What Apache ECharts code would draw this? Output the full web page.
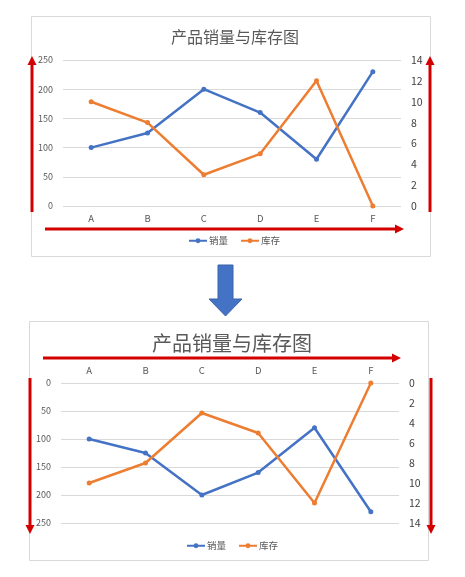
<!DOCTYPE html>
<html>
<head>
<meta charset="utf-8">
<script src="https://cdn.jsdelivr.net/npm/echarts@6/dist/echarts.min.js"></script>
<style>
  html, body { margin: 0; padding: 0; background: #fff; }
  #chart { width: 465px; height: 577px; }
</style>
</head>
<body>
<div id="chart"></div>
<script>
// data
var categories = ["A", "B", "C", "D", "E", "F"];
var sales = [100, 125, 200, 160, 80, 230];
var stock = [10, 8, 3, 5, 12, 0];
var salesName = "销量";
var stockName = "库存";
var titleText = "产品销量与库存图";

var blue = "#4472C4";
var orange = "#ED7D31";
var red = "#D40000";
var grey = "#595959";
var font = "'Noto Sans CJK SC', 'Noto Sans', sans-serif";

var myChart = echarts.init(document.getElementById("chart"));

function arrow(x1, y1, x2, y2) {
  // shaft + triangular head, head at (x2, y2)
  var dx = x2 - x1, dy = y2 - y1;
  var len = Math.sqrt(dx * dx + dy * dy);
  var ux = dx / len, uy = dy / len;
  var hl = 9, hw = 4.5;
  var bx = x2 - ux * hl, by = y2 - uy * hl;
  return [
    {
      type: "line",
      shape: { x1: x1, y1: y1, x2: bx, y2: by },
      style: { stroke: red, lineWidth: 3 },
      z: 100,
    },
    {
      type: "polygon",
      shape: {
        points: [
          [x2, y2],
          [bx - uy * hw, by + ux * hw],
          [bx + uy * hw, by - ux * hw],
        ],
      },
      style: { fill: red },
      z: 100,
    },
  ];
}

function yLeft(grid, inverse) {
  return {
    type: "value",
    gridIndex: grid,
    min: 0,
    max: 250,
    interval: 50,
    inverse: inverse,
    axisLine: { show: false },
    axisTick: { show: false },
    axisLabel: { color: grey, fontSize: 9, fontFamily: font, margin: 10 },
    splitLine: { lineStyle: { color: "#D9D9D9", width: 1 } },
  };
}

function yRight(grid, inverse) {
  return {
    type: "value",
    gridIndex: grid,
    position: "right",
    min: 0,
    max: 14,
    interval: 2,
    inverse: inverse,
    axisLine: { show: false },
    axisTick: { show: false },
    axisLabel: { color: "#404040", fontSize: 10.5, fontFamily: font, margin: 10 },
    splitLine: { show: false },
  };
}

function xCat(grid, pos) {
  return {
    type: "category",
    gridIndex: grid,
    position: pos,
    data: categories,
    axisLine: { show: false },
    axisTick: { show: false },
    axisLabel: { color: grey, fontSize: 9.5, fontFamily: font, margin: 8 },
  };
}

function lineSeries(name, data, color, xi, yi) {
  return {
    name: name,
    type: "line",
    xAxisIndex: xi,
    yAxisIndex: yi,
    data: data,
    color: color,
    symbol: "circle",
    symbolSize: 5,
    lineStyle: { width: 2.5 },
    itemStyle: { color: color },
    animation: false,
  };
}

var graphics = [
  // panels
  {
    type: "rect",
    shape: { x: 31.5, y: 16.5, width: 399, height: 240 },
    style: { fill: "#fff", stroke: "#D9D9D9", lineWidth: 1 },
    z: -10,
  },
  {
    type: "rect",
    shape: { x: 29.5, y: 321.5, width: 399, height: 239 },
    style: { fill: "#fff", stroke: "#D9D9D9", lineWidth: 1 },
    z: -10,
  },
  // big blue arrow between the two charts
  {
    type: "polygon",
    shape: {
      points: [
        [218, 265], [233, 265], [233, 299], [242, 299],
        [225.5, 316], [209, 299], [218, 299],
      ],
    },
    style: { fill: blue, stroke: "#3A62A8", lineWidth: 1 },
    z: 100,
  },
];
graphics = graphics
  .concat(arrow(32, 212, 32, 56))
  .concat(arrow(430, 212, 430, 56))
  .concat(arrow(45, 229, 404, 229))
  .concat(arrow(43, 358, 401, 358))
  .concat(arrow(30, 378, 30, 534))
  .concat(arrow(431, 378, 431, 534));

myChart.setOption({
  animation: false,
  textStyle: { fontFamily: font },
  title: [
    {
      text: titleText,
      left: 230,
      textAlign: "center",
      top: 24,
      textStyle: { color: grey, fontSize: 16, fontWeight: "normal", fontFamily: font },
    },
    {
      text: titleText,
      left: 227,
      textAlign: "center",
      top: 328,
      textStyle: { color: grey, fontSize: 20, fontWeight: "normal", fontFamily: font },
    },
  ],
  legend: [
    {
      data: [salesName, stockName],
      left: 183,
      top: 231,
      orient: "horizontal",
      itemWidth: 18,
      itemHeight: 6,
      itemGap: 12,
      textStyle: { color: grey, fontSize: 9.5, fontFamily: font, padding: [0, 0, 0, -3] },
    },
    {
      data: [salesName, stockName],
      left: 181,
      top: 536,
      itemWidth: 18,
      itemHeight: 6,
      itemGap: 12,
      textStyle: { color: grey, fontSize: 9.5, fontFamily: font, padding: [0, 0, 0, -3] },
    },
  ],
  grid: [
    { left: 63, right: 64, top: 60, height: 146 },
    { left: 61, right: 66, top: 383, height: 140 },
  ],
  xAxis: [xCat(0, "bottom"), xCat(1, "top")],
  yAxis: [yLeft(0, false), yRight(0, false), yLeft(1, true), yRight(1, true)],
  series: [
    lineSeries(salesName, sales, blue, 0, 0),
    lineSeries(stockName, stock, orange, 0, 1),
    lineSeries(salesName, sales, blue, 1, 2),
    lineSeries(stockName, stock, orange, 1, 3),
  ],
  graphic: graphics,
});
</script>
</body>
</html>
